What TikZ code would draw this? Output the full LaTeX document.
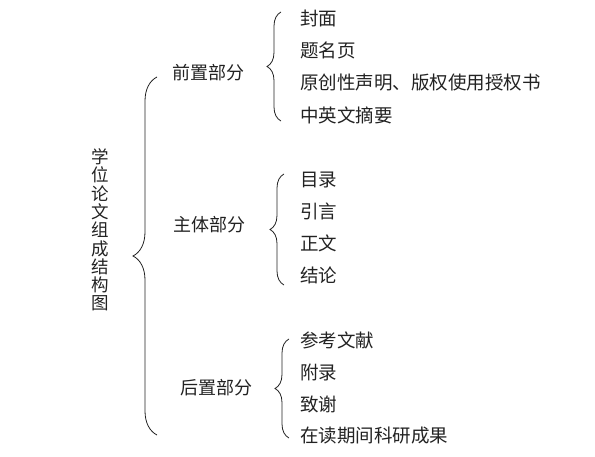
\documentclass[tikz,border=0pt]{standalone}
\usepackage{fontspec}
\setmainfont{Noto Sans CJK SC}
\usetikzlibrary{decorations.pathreplacing}
\definecolor{ink}{HTML}{222222}
\tikzset{
  itembox/.style={anchor=west, inner sep=0pt, text=ink,
    font=\fontsize{18.5}{20}\selectfont},
  partbox/.style={inner sep=0pt, text=ink,
    font=\fontsize{18}{20}\selectfont},
  titlebox/.style={inner sep=0pt, text=ink, align=center,
    font=\fontsize{17.5}{18.3}\selectfont},
  bracebig/.style={decorate, decoration={brace, amplitude=24pt},
    draw=ink, line width=0.8pt},
  bracesmall/.style={decorate, decoration={brace, amplitude=14pt},
    draw=ink, line width=0.8pt},
}

\begin{document}
\begin{tikzpicture}[x=1pt, y=-1pt]
  \useasboundingbox (0,0) rectangle (595,457);

  % title and main brace
  \node[titlebox] (title) at (100,230) {学\\位\\论\\文\\组\\成\\结\\构\\图};
  \coordinate (mtop) at (157,77);
  \coordinate (mbot) at (157,435);
  \draw[bracebig] (mbot) -- (mtop);

  % parts
  \node[partbox] (front) at (208,73) {前置部分};
  \node[partbox] (body) at (209,225) {主体部分};
  \node[partbox] (back) at (216,388) {后置部分};

  % front matter
  \coordinate (ftop) at (281,12);
  \coordinate (fbot) at (281,121);
  \draw[bracesmall] (fbot) -- (ftop);
  \node[itembox] (f1) at (300,18) {封面};
  \node[itembox] (f2) at (300,50) {题名页};
  \node[itembox] (f3) at (300,83) {原创性声明、版权使用授权书};
  \node[itembox] (f4) at (300,115) {中英文摘要};

  % main body
  \coordinate (btop) at (284,174);
  \coordinate (bbot) at (284,285);
  \draw[bracesmall] (bbot) -- (btop);
  \node[itembox] (b1) at (300,180) {目录};
  \node[itembox] (b2) at (300,211) {引言};
  \node[itembox] (b3) at (300,243) {正文};
  \node[itembox] (b4) at (300,275) {结论};

  % back matter
  \coordinate (ktop) at (289,339);
  \coordinate (kbot) at (289,438);
  \draw[bracesmall] (kbot) -- (ktop);
  \node[itembox] (k1) at (300,340) {参考文献};
  \node[itembox] (k2) at (300,372) {附录};
  \node[itembox] (k3) at (300,404) {致谢};
  \node[itembox] (k4) at (300,436) {在读期间科研成果};
\end{tikzpicture}
\end{document}
